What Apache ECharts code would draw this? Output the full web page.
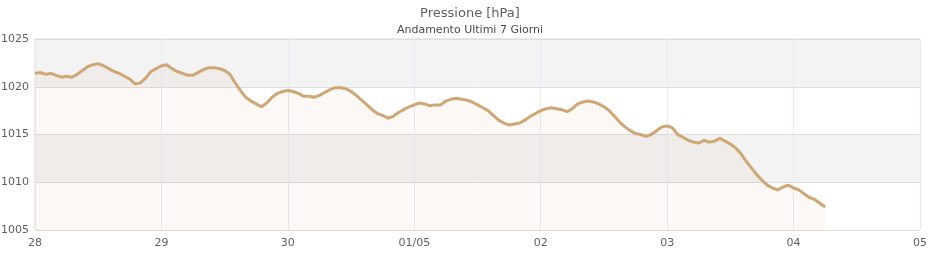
<!DOCTYPE html>
<html>
<head>
<meta charset="utf-8">
<script src="https://cdn.jsdelivr.net/npm/echarts@6/dist/echarts.min.js"></script>
<style>
  html, body { margin: 0; padding: 0; background: #fff; }
  #chart { width: 940px; height: 260px; }
</style>
</head>
<body>
<div id="chart"></div>
<script>
// giorni sull'asse x (ogni 24 ore)
const tickLabels = ['28', '29', '30', '01/05', '02', '03', '04', '05'];
// pressione oraria a partire dal 28 alle 00:00 [hPa]
const pressure = [
  1021.4, 1021.5, 1021.3, 1021.4, 1021.2, 1021.0, 1021.1, 1021.0, 1021.3, 1021.7,
  1022.1, 1022.3, 1022.4, 1022.2, 1021.9, 1021.6, 1021.4, 1021.1, 1020.8, 1020.3,
  1020.4, 1020.9, 1021.6, 1021.9, 1022.2, 1022.3, 1021.9, 1021.6, 1021.4, 1021.2,
  1021.2, 1021.5, 1021.8, 1022.0, 1022.0, 1021.9, 1021.7, 1021.3, 1020.4, 1019.6,
  1018.9, 1018.5, 1018.2, 1017.9, 1018.3, 1018.9, 1019.3, 1019.5, 1019.6, 1019.5,
  1019.3, 1019.0, 1019.0, 1018.9, 1019.1, 1019.4, 1019.7, 1019.9, 1019.9, 1019.8,
  1019.5, 1019.1, 1018.6, 1018.1, 1017.6, 1017.2, 1017.0, 1016.7, 1016.9, 1017.3,
  1017.6, 1017.9, 1018.1, 1018.3, 1018.2, 1018.0, 1018.1, 1018.1, 1018.5, 1018.7,
  1018.8, 1018.7, 1018.6, 1018.4, 1018.1, 1017.8, 1017.5, 1017.0, 1016.5, 1016.2,
  1016.0, 1016.1, 1016.2, 1016.5, 1016.9, 1017.2, 1017.5, 1017.7, 1017.8, 1017.7,
  1017.6, 1017.4, 1017.7, 1018.2, 1018.4, 1018.5, 1018.4, 1018.2, 1017.9, 1017.5,
  1016.9, 1016.3, 1015.8, 1015.4, 1015.1, 1015.0, 1014.8, 1015.0, 1015.4, 1015.8,
  1015.9, 1015.7, 1015.0, 1014.7, 1014.4, 1014.2, 1014.1, 1014.4, 1014.2, 1014.3,
  1014.6, 1014.3, 1014.0, 1013.6, 1013.0, 1012.2, 1011.5, 1010.8, 1010.2, 1009.7,
  1009.4, 1009.2, 1009.5, 1009.7, 1009.4, 1009.2, 1008.8, 1008.4, 1008.2, 1007.8,
  1007.4
];

const chart = echarts.init(document.getElementById('chart'));
const font = 'DejaVu Sans';

chart.setOption({
  animation: false,
  title: {
    text: 'Pressione [hPa]',
    subtext: 'Andamento Ultimi 7 Giorni',
    left: 'center',
    top: 2,
    itemGap: 5,
    textStyle: { fontFamily: font, fontSize: 13, fontWeight: 'normal', color: '#606060' },
    subtextStyle: { fontFamily: font, fontSize: 11, color: '#4a4a4a' }
  },
  grid: {
    left: 35, right: 20, top: 39, bottom: 30,
    outerBoundsMode: 'none',
    show: true, borderColor: '#d8d8d8', borderWidth: 1
  },
  xAxis: {
    type: 'value',
    min: 0,
    max: 168,
    interval: 24,
    axisLine: { show: false },
    axisTick: { show: false },
    axisLabel: {
      fontFamily: font, fontSize: 11, color: '#606060', margin: 8,
      formatter: v => tickLabels[Math.round(v / 24)]
    },
    splitLine: { show: true, lineStyle: { color: '#ece8f5', width: 1 } }
  },
  yAxis: {
    type: 'value',
    min: 1005,
    max: 1025,
    interval: 5,
    axisLine: { show: false },
    axisTick: { show: false },
    axisLabel: { fontFamily: font, fontSize: 11, color: '#606060', margin: 6, formatter: v => String(v) },
    splitLine: { lineStyle: { color: '#dddddd' } },
    splitArea: { show: true, areaStyle: { color: ['#ffffff', '#f3f3f3'] } }
  },
  series: [{
    type: 'line',
    data: pressure.map((p, h) => [h, p]),
    symbol: 'none',
    lineStyle: { color: '#cfa776', width: 3 },
    areaStyle: { color: 'rgba(205,160,115,0.1)', origin: 'start' }
  }]
});
</script>
</body>
</html>
